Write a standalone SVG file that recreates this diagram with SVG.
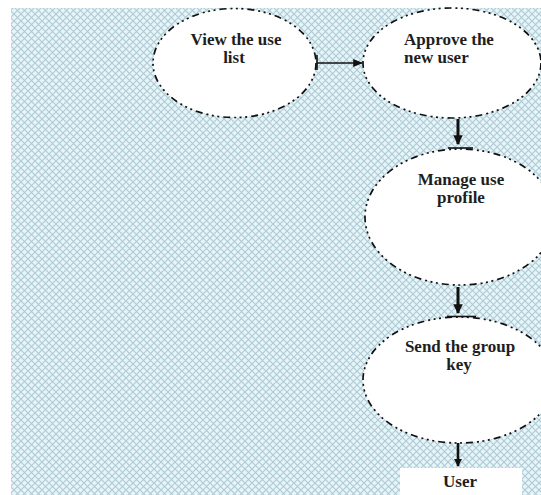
<svg xmlns="http://www.w3.org/2000/svg" width="541" height="495" viewBox="0 0 541 495">
  <defs>
    <!-- diagonal crosshatch fill for the backdrop -->
    <pattern id="hatch" width="7" height="7" patternUnits="userSpaceOnUse">
      <rect width="7" height="7" fill="#e6f5f9"/>
      <path d="M0 0 L7 7 M7 0 L0 7" stroke="#aecad3" stroke-width="1.1"/>
    </pattern>
    <marker id="head" viewBox="0 0 10 10" refX="9" refY="5" markerWidth="3.2" markerHeight="3.2" orient="auto" markerUnits="strokeWidth">
      <path d="M0 0 L10 5 L0 10 Z" fill="#111"/>
    </marker>
    <marker id="headThin" viewBox="0 0 10 10" refX="9" refY="5" markerWidth="7" markerHeight="7" orient="auto" markerUnits="strokeWidth">
      <path d="M0 1 L10 5 L0 9 Z" fill="#111"/>
    </marker>
  </defs>
  <style>
    .task { fill: #ffffff; stroke: #111; stroke-width: 1.7; stroke-dasharray: 7 4 2 3.5 2 3.5 2 4; }
    .label { font-family: "Liberation Serif", "Times New Roman", serif; font-weight: bold; font-size: 17px; fill: #1e1e1e; }
    .mid { text-anchor: middle; }
    .flow { stroke: #111; fill: none; }
  </style>

  <rect x="0" y="0" width="541" height="495" fill="#ffffff"/>
  <rect x="11" y="8" width="530" height="487" fill="url(#hatch)"/>

  <g id="view-user-list">
    <ellipse class="task" cx="234.5" cy="63" rx="81.5" ry="54.5"/>
    <text class="label mid" x="236" y="45">View the use</text>
    <text class="label mid" x="234" y="63">list</text>
  </g>

  <g id="approve-new-user">
    <ellipse class="task" cx="452" cy="63" rx="89" ry="55"/>
    <text class="label" x="404" y="45">Approve the</text>
    <text class="label" x="404" y="63">new user</text>
  </g>

  <g id="manage-user-profile">
    <ellipse class="task" cx="460" cy="217" rx="95" ry="68"/>
    <text class="label mid" x="461" y="185">Manage use</text>
    <text class="label mid" x="461" y="203">profile</text>
  </g>

  <g id="send-group-key">
    <ellipse class="task" cx="459" cy="380" rx="96" ry="63"/>
    <text class="label mid" x="460" y="352">Send the group</text>
    <text class="label mid" x="459" y="370">key</text>
  </g>

  <g id="user">
    <rect x="400" y="468" width="122" height="27" fill="#ffffff"/>
    <text class="label mid" x="460" y="487">User</text>
  </g>

  <g id="connectors">
    <!-- list to approve -->
    <line class="flow" x1="317" y1="55" x2="317" y2="70" stroke-width="1.6"/>
    <line class="flow" x1="317" y1="63" x2="362" y2="63" stroke-width="1.4" marker-end="url(#headThin)"/>
    <!-- approve to manage -->
    <line class="flow" x1="458" y1="119" x2="458" y2="144" stroke-width="3" marker-end="url(#head)"/>
    <line class="flow" x1="448" y1="148" x2="473" y2="148" stroke-width="1.6"/>
    <!-- manage to send -->
    <line class="flow" x1="458" y1="287" x2="458" y2="313" stroke-width="3" marker-end="url(#head)"/>
    <line class="flow" x1="447" y1="316.5" x2="476" y2="316.5" stroke-width="1.6"/>
    <!-- send to user -->
    <line class="flow" x1="458" y1="443" x2="458" y2="466" stroke-width="2.6" marker-end="url(#head)"/>
  </g>
</svg>
